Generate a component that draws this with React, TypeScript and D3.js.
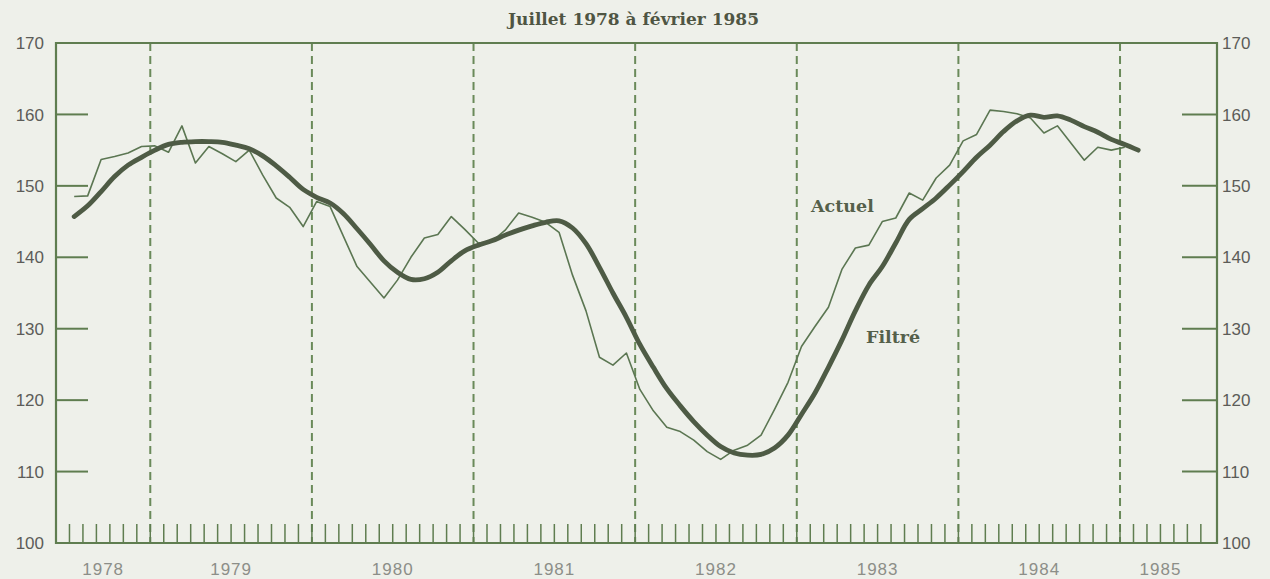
import React from 'react';
import * as d3 from 'd3';

// months counted from June 1978 (index 0 = left edge of the frame)
const startMonth = 1; // Juillet 1978
const actuel = [
  148.5, 148.6, 153.7, 154.1, 154.6, 155.5,
  155.6, 154.7, 158.4, 153.2, 155.5, 154.5, 153.4, 155.0, 151.5, 148.3, 147.0, 144.3,
  147.8, 147.1, 142.9, 138.7, 136.5, 134.3, 136.8, 140.0, 142.7, 143.2, 145.7, 143.9,
  142.0, 142.2, 143.8, 146.2, 145.6, 144.9, 143.5, 137.5, 132.5, 126.0, 124.9, 126.6,
  121.5, 118.5, 116.2, 115.6, 114.4, 112.8, 111.7, 113.0, 113.7, 115.1, 118.7, 122.5,
  127.5, 130.3, 133.0, 138.3, 141.3, 141.7, 145.0, 145.5, 149.0, 148.0, 151.1, 152.9,
  156.3, 157.2, 160.6, 160.4, 160.1, 159.5, 157.4, 158.4, 156.0, 153.6, 155.4, 155.0,
  155.4,
];
const filtre = [
  145.7, 147.2, 149.2, 151.3, 152.9, 154.0,
  155.0, 155.8, 156.1, 156.2, 156.2, 156.1, 155.7, 155.2, 154.2, 152.8, 151.2, 149.5,
  148.4, 147.6, 146.1, 144.0, 141.8, 139.5, 137.9, 136.9, 137.0, 137.9, 139.5, 140.9,
  141.7, 142.3, 143.1, 143.8, 144.4, 144.9, 145.1, 144.1, 141.9, 138.6, 135.0, 131.6,
  127.8, 124.6, 121.6, 119.2, 117.0, 115.1, 113.5, 112.6, 112.3, 112.4, 113.3, 115.1,
  118.0, 121.0, 124.6, 128.4, 132.5, 136.1, 138.7, 142.0, 145.3, 146.8, 148.3, 150.1,
  152.0, 154.0, 155.7, 157.6, 159.1, 159.9, 159.6, 159.8, 159.2, 158.3, 157.5, 156.5,
  155.8, 155.0,
];
const years = ['1978', '1979', '1980', '1981', '1982', '1983', '1984', '1985'];
const yTicks = [100, 110, 120, 130, 140, 150, 160, 170];
const title = 'Juillet 1978 à février 1985';

const W = 1270;
const H = 579;
const margin = { left: 56, right: 53, top: 43, bottom: 36 };
const DATA_OFFSET = 0.35; // points sit a bit after the month tick
const LAST_TICK = 85;
const green = '#5f7d50';

export default function App() {
  const x = d3.scaleLinear().domain([0, 86.2]).range([margin.left, W - margin.right]);
  const y = d3.scaleLinear().domain([100, 170]).range([H - margin.bottom, margin.top]);
  const x0 = x.range()[0];
  const x1 = x.range()[1];
  const yb = y(100);
  const yt = y(170);

  const line = d3
    .line<number>()
    .x((_d, i) => x(startMonth + i + DATA_OFFSET))
    .y((d) => y(d));
  const smooth = d3
    .line<number>()
    .x((_d, i) => x(startMonth + i + DATA_OFFSET))
    .y((d) => y(d))
    .curve(d3.curveCatmullRom.alpha(0.5));

  const monthTicks = d3.range(1, LAST_TICK + 1);
  // January of each year 1979..1985
  const yearStarts = d3.range(1, years.length).map((k) => 7 + (k - 1) * 12);
  const labelPos = years.map((_yr, k) => {
    const s = k === 0 ? 0 : 7 + (k - 1) * 12;
    const e = Math.min(s === 0 ? 7 : s + 12, LAST_TICK);
    return (s + e) / 2;
  });

  return (
    <svg
      width={W}
      height={H}
      viewBox={`0 0 ${W} ${H}`}
      style={{ position: 'absolute', left: 0, top: 0 }}
    >
      <rect width={W} height={H} fill="#eef0ea" />
      <text
        x={(x0 + x1) / 2 - 3}
        y={25}
        textAnchor="middle"
        fontFamily="'DejaVu Serif', serif"
        fontWeight="bold"
        fontSize={17}
        fill="#4f5543"
      >
        {title}
      </text>

      {/* dashed year separators */}
      {yearStarts.map((m) => (
        <line
          key={m}
          x1={x(m)}
          x2={x(m)}
          y1={yt}
          y2={yb}
          stroke="#6a8a5a"
          strokeWidth={2}
          strokeDasharray="8,5"
        />
      ))}

      {/* monthly ticks */}
      {monthTicks.map((m) => (
        <line key={m} x1={x(m)} x2={x(m)} y1={yb} y2={yb - 19} stroke={green} strokeWidth={1.5} />
      ))}

      {/* y ticks + labels both sides */}
      {yTicks.map((t) => (
        <g key={t}>
          {t > 100 && t < 170 && (
            <>
              <line x1={x0} x2={x0 + 32} y1={y(t)} y2={y(t)} stroke={green} strokeWidth={2} />
              <line x1={x1 - 35} x2={x1} y1={y(t)} y2={y(t)} stroke={green} strokeWidth={2} />
            </>
          )}
          <text
            x={x0 - 12}
            y={y(t)}
            dy="0.36em"
            textAnchor="end"
            fontFamily="'Liberation Sans', sans-serif"
            fontSize={17}
            fill="#5c5c58"
          >
            {t}
          </text>
          <text
            x={x1 + 5}
            y={y(t)}
            dy="0.36em"
            textAnchor="start"
            fontFamily="'Liberation Sans', sans-serif"
            fontSize={17}
            fill="#5c5c58"
          >
            {t}
          </text>
        </g>
      ))}

      {/* frame */}
      <path
        d={`M${x0},${yt}H${x1}V${yb}H${x0}Z`}
        fill="none"
        stroke={green}
        strokeWidth={2.2}
      />

      {/* year labels */}
      {years.map((yr, k) => (
        <text
          key={yr}
          x={x(labelPos[k])}
          y={yb + 32}
          textAnchor="middle"
          fontFamily="'Liberation Sans', sans-serif"
          fontSize={17}
          letterSpacing={1}
          fill="#8c8e88"
        >
          {yr}
        </text>
      ))}

      {/* series */}
      <path d={line(actuel) ?? ''} fill="none" stroke="#5b7652" strokeWidth={1.6} strokeLinejoin="round" />
      <path d={smooth(filtre) ?? ''} fill="none" stroke="#4e5b45" strokeWidth={4.8} strokeLinecap="round" strokeLinejoin="round" />

      <text
        x={811}
        y={212}
        fontFamily="'DejaVu Serif', serif"
        fontWeight="bold"
        fontSize={17.5}
        fill="#55604a"
      >
        Actuel
      </text>
      <text
        x={866}
        y={343}
        fontFamily="'DejaVu Serif', serif"
        fontWeight="bold"
        fontSize={17.5}
        fill="#55604a"
      >
        Filtré
      </text>
    </svg>
  );
}
